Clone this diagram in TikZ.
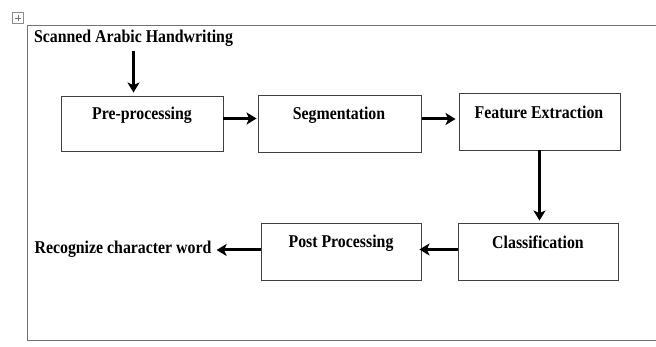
\documentclass[tikz,border=0pt]{standalone}
\usepackage{fontspec}
\setmainfont{Liberation Serif}
\usetikzlibrary{arrows.meta}
\tikzset{
  box/.style={draw=black!75, line width=0.9pt, rectangle, minimum width=#1, minimum height=57pt, inner sep=0pt},
  box/.default=161pt,
  txt/.style={inner sep=0pt, font=\bfseries\fontsize{18}{21}\selectfont},
  arr/.style={line width=3pt, -{Stealth[length=10pt,width=12pt,inset=2.5pt]}},
  frame/.style={draw=black!55, line width=0.9pt}
}
\newcommand{\sq}[1]{\scalebox{0.88}[1]{#1}}
\begin{document}
\begin{tikzpicture}[x=1pt,y=-1pt]
\useasboundingbox (0,0) rectangle (656,347);
% outer frame
\coordinate (ftr) at (656,25);
\coordinate (ftl) at (27,25);
\coordinate (fbl) at (27,340);
\coordinate (fbr) at (656,340);
\draw[frame] (ftr) -- (ftl) -- (fbl) -- (fbr);
% move handle icon
\node[draw=black!45, line width=0.6pt, minimum size=11pt, inner sep=0pt, fill=white] (handle) at (18,18) {};
\draw[black!55, line width=0.5pt] ([yshift=-3pt]handle.north) -- ([yshift=3pt]handle.south);
\draw[black!55, line width=0.5pt] ([xshift=3pt]handle.west) -- ([xshift=-3pt]handle.east);
% boxes
\node[box=162pt, minimum height=55pt] (pre) at (142,123.5) {};
\node[box=163pt] (seg) at (339.5,123.5) {};
\node[box=161pt] (fe) at (539.5,121.5) {};
\node[box=160pt] (post) at (341,251.5) {};
\node[box=160pt] (cls) at (538,251.5) {};
% texts
\node[txt] (scan) at (133.5,38) {\sq{Scanned Arabic Handwriting}};
\node[txt] (preT) at (142,115) {\sq{Pre-processing}};
\node[txt] (segT) at (339,115) {\sq{Segmentation}};
\node[txt] (feT) at (539,112) {\sq{Feature Extraction}};
\node[txt] (postT) at (341,243) {\sq{Post Processing}};
\node[txt] (clsT) at (538,242) {\sq{Classification}};
\node[txt] (rec) at (123,249) {\sq{Recognize character word}};
% arrow end points
\path ([yshift=5pt]pre.east -| seg.west) coordinate (segIn);
\path ([yshift=4.5pt]seg.east -| fe.west) coordinate (feIn);
\path ([yshift=2pt]cls.west -| post.east) coordinate (postIn);
\path ([yshift=1.5pt]post.west -| rec.east) coordinate (recIn);
% arrows
\draw[arr] ([yshift=-5pt]scan.south) -- ([yshift=3pt]scan.south |- pre.north);
\draw[arr] ([yshift=5pt]pre.east) -- ([xshift=-1pt]segIn);
\draw[arr] ([yshift=4.5pt,xshift=1pt]seg.east) -- ([xshift=-3pt]feIn);
\draw[arr] (fe.south) -- ([yshift=2pt]fe.south |- cls.north);
\draw[arr] ([yshift=2pt]cls.west) -- ([xshift=-2pt]postIn);
\draw[arr] ([yshift=1.5pt]post.west) -- ([xshift=5pt]recIn);
\end{tikzpicture}
\end{document}
